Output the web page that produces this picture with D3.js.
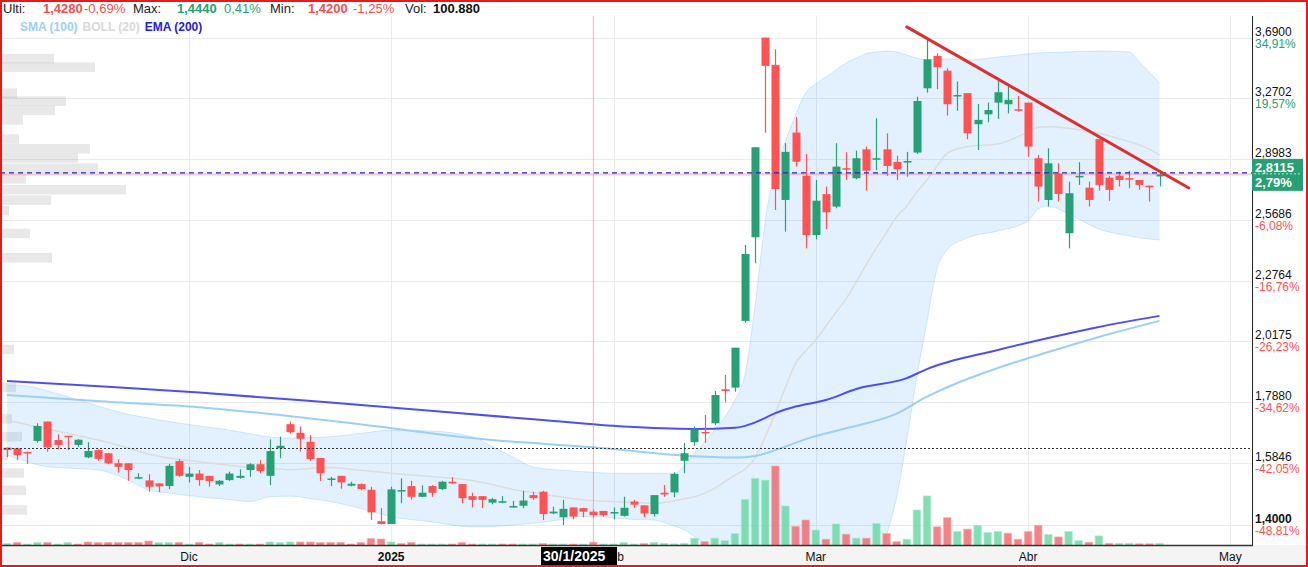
<!DOCTYPE html>
<html>
<head>
<meta charset="utf-8">
<script src="https://cdn.jsdelivr.net/npm/d3@7"></script>
<style>
  html, body { margin: 0; padding: 0; background: #fff; }
  svg { display: block; font-family: "Liberation Sans", Arial, sans-serif; }
</style>
</head>
<body>
<svg id="chart" width="1308" height="567"></svg>
<script>
// Daily candles, 6/11/2024 .. 22/4/2025 (index = trading day)
const opens = [1.633,1.631,1.619,1.655,1.720,1.658,1.672,1.642,1.602,1.625,
  1.615,1.583,1.583,1.537,1.530,1.521,1.513,1.590,1.541,1.551,
  1.544,1.518,1.531,1.538,1.562,1.580,1.544,1.631,1.711,1.682,
  1.652,1.600,1.532,1.544,1.514,1.519,1.502,1.411,1.403,1.498,
  1.513,1.481,1.513,1.504,1.526,1.519,1.483,1.483,1.464,1.465,
  1.452,1.455,1.486,1.496,1.433,1.422,1.450,1.448,1.438,1.440,
  1.434,1.426,1.467,1.456,1.431,1.493,1.494,1.591,1.651,1.685,
  1.714,1.834,1.840,2.101,2.481,3.690,3.495,2.672,3.055,2.804,
  2.492,2.703,2.637,2.846,2.790,2.955,2.897,2.955,2.882,2.882,
  2.936,3.336,3.558,3.455,3.286,3.304,3.106,3.168,3.242,3.232,
  3.200,3.242,2.903,2.672,2.816,2.501,2.797,2.738,3.015,2.793,
  2.804,2.790,2.780,2.749,2.800];
const highs = [1.633,1.633,1.620,1.714,1.720,1.677,1.672,1.661,1.651,1.628,
  1.615,1.596,1.583,1.552,1.549,1.521,1.581,1.596,1.571,1.562,
  1.544,1.531,1.557,1.564,1.583,1.593,1.660,1.669,1.720,1.703,
  1.674,1.600,1.541,1.544,1.526,1.521,1.511,1.448,1.511,1.536,
  1.529,1.515,1.516,1.529,1.540,1.519,1.493,1.483,1.478,1.483,
  1.469,1.498,1.496,1.499,1.452,1.472,1.450,1.449,1.444,1.440,
  1.450,1.481,1.472,1.456,1.486,1.516,1.555,1.648,1.703,1.743,
  1.828,1.887,1.992,2.443,2.967,3.690,3.605,2.991,3.150,2.928,
  2.780,2.744,2.991,2.938,2.947,2.971,3.143,3.051,2.918,2.940,
  3.281,3.673,3.577,3.472,3.381,3.304,3.234,3.242,3.385,3.347,
  3.286,3.242,2.922,2.961,2.874,2.771,2.880,2.771,3.015,2.803,
  2.827,2.831,2.780,2.749,2.836];
const lows = [1.602,1.593,1.581,1.649,1.620,1.628,1.625,1.636,1.599,1.591,
  1.580,1.554,1.529,1.535,1.496,1.495,1.504,1.541,1.524,1.514,
  1.511,1.513,1.529,1.535,1.541,1.552,1.516,1.599,1.680,1.620,
  1.591,1.528,1.513,1.505,1.512,1.501,1.414,1.402,1.403,1.462,
  1.472,1.480,1.481,1.501,1.519,1.462,1.450,1.448,1.459,1.462,
  1.450,1.448,1.472,1.414,1.431,1.400,1.416,1.422,1.420,1.424,
  1.416,1.424,1.448,1.422,1.424,1.481,1.480,1.552,1.639,1.649,
  1.708,1.787,1.825,2.094,2.356,3.055,2.619,2.509,2.855,2.427,
  2.471,2.521,2.628,2.780,2.784,2.722,2.836,2.803,2.780,2.799,
  2.928,3.307,3.330,3.160,3.191,3.015,2.951,3.118,3.139,3.174,
  3.185,2.912,2.663,2.637,2.663,2.427,2.753,2.637,2.722,2.667,
  2.744,2.735,2.726,2.663,2.745];
const closes = [1.625,1.609,1.616,1.705,1.634,1.642,1.667,1.659,1.622,1.597,
  1.583,1.572,1.562,1.540,1.511,1.512,1.575,1.544,1.551,1.531,
  1.528,1.529,1.551,1.544,1.580,1.559,1.622,1.639,1.684,1.662,
  1.596,1.552,1.536,1.524,1.520,1.504,1.436,1.403,1.503,1.501,
  1.481,1.493,1.493,1.526,1.521,1.477,1.472,1.472,1.474,1.468,
  1.454,1.470,1.477,1.431,1.438,1.446,1.424,1.438,1.428,1.428,
  1.437,1.449,1.458,1.433,1.486,1.488,1.550,1.615,1.693,1.680,
  1.813,1.828,1.992,2.400,2.967,3.488,2.731,2.940,2.883,2.492,
  2.668,2.607,2.855,2.840,2.903,2.832,2.903,2.859,2.840,2.887,
  3.253,3.534,3.479,3.232,3.292,3.051,3.133,3.195,3.310,3.260,
  3.193,2.971,2.744,2.874,2.704,2.708,2.803,2.672,2.753,2.726,
  2.780,2.784,2.753,2.740,2.8115];
// volume, thousands of shares
const volumes = [55,91,37,91,91,37,91,37,110,91,
  91,91,91,91,146,91,91,91,37,91,
  37,91,37,37,37,37,110,91,110,110,
  110,91,91,91,37,91,238,220,110,55,
  91,37,37,37,37,91,37,37,37,37,
  37,37,37,55,37,37,37,37,100.88,37,
  37,91,37,55,91,60,40,60,249,124,
  249,161,421,1668,2437,2374,2890,1427,680,915,
  545,209,768,395,249,249,790,421,124,209,
  1280,1793,666,1002,494,582,717,457,494,432,
  209,494,717,384,296,494,161,99,333,60,
  60,60,45,45,60];

// Bollinger (20) at these bar indices
const bollIdx = [0,2,4,6,9,12,14,16,19,22,24,26,28,30,32,35,38,42,46,48,
  50,52,55,57,60,62,64,66,67,68,69,70,71,72,73,74,75,76,77,78,
  79,80,81,82,83,84,85,86,87,88,89,90,91,92,93,95,98,101,102,103,
  105,108,111,112,113,114];
const bollUpper = [1.850,1.846,1.828,1.807,1.774,1.745,1.732,1.720,1.705,1.691,
  1.679,1.668,1.664,1.666,1.669,1.680,1.691,1.688,1.669,1.636,
  1.604,1.572,1.561,1.557,1.552,1.552,1.552,1.552,1.575,1.615,
  1.651,1.691,1.736,1.795,1.889,2.169,2.562,2.836,3.004,3.164,
  3.305,3.365,3.413,3.460,3.508,3.543,3.575,3.585,3.593,3.586,
  3.564,3.543,3.529,3.536,3.536,3.529,3.550,3.572,3.579,3.582,
  3.586,3.593,3.586,3.515,3.446,3.371];
const bollMid = [1.725,1.709,1.695,1.680,1.658,1.632,1.612,1.600,1.588,1.577,
  1.570,1.567,1.563,1.567,1.570,1.561,1.552,1.542,1.530,1.518,
  1.503,1.494,1.480,1.472,1.467,1.465,1.462,1.469,1.475,1.481,
  1.492,1.506,1.526,1.546,1.565,1.600,1.669,1.749,1.841,1.931,
  1.979,2.023,2.080,2.137,2.195,2.270,2.351,2.429,2.505,2.585,
  2.640,2.715,2.780,2.859,2.932,2.971,2.987,3.059,3.088,3.090,
  3.081,3.051,3.000,2.980,2.955,2.922];
const bollLower = [1.609,1.588,1.572,1.568,1.562,1.531,1.501,1.492,1.481,1.473,
  1.467,1.481,1.483,1.476,1.467,1.447,1.424,1.409,1.395,1.396,
  1.400,1.405,1.416,1.424,1.420,1.416,1.414,1.397,1.387,1.368,
  1.350,1.320,1.280,1.220,1.150,1.050,0.950,0.900,0.850,0.820,
  0.800,0.800,0.800,0.820,0.850,0.900,0.980,1.250,1.370,1.480,
  1.660,1.880,2.100,2.330,2.420,2.478,2.512,2.563,2.625,2.640,
  2.599,2.522,2.487,2.478,2.472,2.468];

// SMA (100) and EMA (200), [bar index, price]
const sma100 = [[0,1.813],[10,1.789],[19,1.770],[32,1.723],[48,1.658],[58,1.634],
  [68,1.605],[72,1.601],[74,1.606],[76,1.625],[79,1.661],[83,1.697],[88,1.747],
  [91,1.807],[94,1.857],[98,1.913],[103,1.975],[108,2.035],[114,2.101]];
const ema200 = [[0,1.864],[10,1.843],[19,1.822],[32,1.786],[53,1.725],[61,1.703],
  [68,1.695],[72,1.699],[74,1.717],[76,1.749],[78,1.772],[81,1.795],[84,1.835],
  [89,1.875],[91,1.909],[98,1.983],[103,2.031],[108,2.076],[114,2.122]];

// volume-by-price profile on the left edge
const profilePrices = [3.539,3.479,3.304,3.252,3.193,3.133,3.016,2.958,2.904,2.846,
  2.786,2.727,2.671,2.616,2.500,2.382,1.985,1.841,1.729,1.669,1.609,1.553,1.500,1.443];
const profileVols = [2160,3800,680,2640,2200,920,760,3600,3120,3920,
  1040,5040,2040,360,1200,2080,560,640,480,880,320,960,1040,1080];

// axes (the % under 2,8983 is covered by the last-price box)
const priceTicks = [3.69, 3.2702, 2.8983, 2.5686, 2.2764, 2.0175, 1.788, 1.5846, 1.4];
const pctLabels = ['34,91%', '19,57%', '', '-6,08%', '-16,76%', '-26,23%', '-34,62%', '-42,05%', '-48,81%'];
const monthIdx = [18, 38, 60, 80, 101, 121];
const monthLabels = ['Dic', '2025', 'Feb', 'Mar', 'Abr', 'May'];

// drawn trend line, price lines and crosshair
const trendLine = [[89, 3.769], [116.9, 2.736]];
const prevClose = 2.82;
const lastPct = '2,79%';
const crossIdx = 58;
const crossPrice = 1.632;
const crossDate = '30/1/2025';
const hoverLabels = ['Ulti:', '1,4280', '-0,69%', 'Max:', '1,4440', '0,41%', 'Min:', '1,4200', '-1,25%', 'Vol:', '100.880'];

const GREEN = '#26a074', RED = '#ff5252', HRED = '#f05050';
const W = 1308, H = 567;
const P = { left: 0, right: 1252, top: 16, bottom: 545 };

const loc = d3.formatLocale({ decimal: ',', thousands: '.', grouping: [3], currency: ['', ''] });
const fmtPrice = loc.format('.4f');

const svg = d3.select('#chart');
svg.append('rect').attr('width', W).attr('height', H).attr('fill', '#fff');

const x = d3.scaleLinear().domain([0, 121]).range([7, 7 + 10.11 * 121]);
const y = d3.scaleLog().domain([1.3457, 3.844]).range([P.bottom, 17]);
const yVol = d3.scaleLinear().domain([0, 3000]).range([P.bottom, P.bottom - 82]);
const xProf = d3.scaleLinear().domain([0, d3.max(profileVols)]).range([0, 126]);

svg.append('clipPath').attr('id', 'clip')
  .append('rect').attr('x', P.left).attr('y', P.top)
  .attr('width', P.right - P.left).attr('height', P.bottom - P.top);

const g = svg.append('g').attr('clip-path', 'url(#clip)');

// grid
g.selectAll('.hgrid').data(priceTicks).enter().append('line')
  .attr('x1', P.left).attr('x2', P.right)
  .attr('y1', d => Math.round(y(d)) + 0.5).attr('y2', d => Math.round(y(d)) + 0.5)
  .attr('stroke', '#ebebeb');
g.selectAll('.vgrid').data(monthIdx).enter().append('line')
  .attr('x1', d => Math.round(x(d)) + 0.5).attr('x2', d => Math.round(x(d)) + 0.5)
  .attr('y1', P.top).attr('y2', P.bottom)
  .attr('stroke', '#ebebeb');

// volume profile
g.selectAll('.prof').data(profilePrices).enter().append('rect')
  .attr('x', 0).attr('y', d => y(d) - 4.75)
  .attr('width', (d, k) => xProf(profileVols[k])).attr('height', 9.5)
  .attr('fill', 'rgba(150,150,150,0.22)');

// bollinger band
const bollPts = bollIdx.map((d, k) => k);
g.append('path').datum(bollPts)
  .attr('d', d3.area().curve(d3.curveMonotoneX)
    .x(k => x(bollIdx[k])).y0(k => y(bollLower[k])).y1(k => y(bollUpper[k])))
  .attr('fill', 'rgba(33,150,243,0.13)');
[bollUpper, bollLower].forEach(arr => {
  g.append('path').datum(bollPts)
    .attr('d', d3.line().curve(d3.curveMonotoneX).x(k => x(bollIdx[k])).y(k => y(arr[k])))
    .attr('fill', 'none').attr('stroke', 'rgba(100,175,240,0.25)').attr('stroke-width', 1);
});
g.append('path').datum(bollPts)
  .attr('d', d3.line().curve(d3.curveMonotoneX).x(k => x(bollIdx[k])).y(k => y(bollMid[k])))
  .attr('fill', 'none').attr('stroke', '#dcdcdc').attr('stroke-width', 1.5);

// moving averages
const maLine = d3.line().curve(d3.curveMonotoneX).x(d => x(d[0])).y(d => y(d[1]));
g.append('path').datum(sma100).attr('d', maLine)
  .attr('fill', 'none').attr('stroke', '#9ccff8').attr('stroke-width', 2);
g.append('path').datum(ema200).attr('d', maLine)
  .attr('fill', 'none').attr('stroke', '#4f4ff0').attr('stroke-width', 2);

// volume bars, coloured by close vs previous close
const isDown = i => i > 0 && closes[i] < closes[i - 1];
g.selectAll('.vol').data(volumes).enter().append('rect')
  .attr('x', (d, i) => x(i) - 3.75).attr('width', 7.5)
  .attr('y', d => yVol(d)).attr('height', d => P.bottom - yVol(d))
  .attr('fill', (d, i) => isDown(i) ? 'rgba(240,100,105,0.8)' : 'rgba(100,215,160,0.8)')
  .attr('stroke', (d, i) => isDown(i) ? 'rgba(250,170,170,0.6)' : 'rgba(170,235,205,0.6)')
  .attr('stroke-width', 1);

// candles
const candles = g.selectAll('.candle').data(closes).enter().append('g');
candles.append('line')
  .attr('x1', (d, i) => Math.round(x(i)) + 0.5).attr('x2', (d, i) => Math.round(x(i)) + 0.5)
  .attr('y1', (d, i) => y(highs[i])).attr('y2', (d, i) => y(lows[i]))
  .attr('stroke', (d, i) => d >= opens[i] ? GREEN : RED).attr('stroke-width', 1.2);
candles.append('rect')
  .attr('x', (d, i) => Math.round(x(i)) + 0.5 - 4).attr('width', 8)
  .attr('y', (d, i) => y(Math.max(d, opens[i])))
  .attr('height', (d, i) => Math.max(1.5, Math.abs(y(d) - y(opens[i]))))
  .attr('fill', (d, i) => d >= opens[i] ? GREEN : RED);

// price lines
const lastClose = closes[closes.length - 1];
g.append('line').attr('x1', P.left).attr('x2', P.right)
  .attr('y1', y(lastClose)).attr('y2', y(lastClose))
  .attr('stroke', 'rgba(255,82,82,0.3)').attr('stroke-width', 2);
g.append('line').attr('x1', P.left).attr('x2', P.right)
  .attr('y1', y(prevClose)).attr('y2', y(prevClose))
  .attr('stroke', '#1f1fd8').attr('stroke-width', 1.2).attr('stroke-dasharray', '5,4');

// trend line
g.append('line')
  .attr('x1', x(trendLine[0][0])).attr('y1', y(trendLine[0][1]))
  .attr('x2', x(trendLine[1][0])).attr('y2', y(trendLine[1][1]))
  .attr('stroke', '#dc3030').attr('stroke-width', 3).attr('stroke-linecap', 'round');

// crosshair
g.append('line').attr('x1', x(crossIdx)).attr('x2', x(crossIdx))
  .attr('y1', P.top).attr('y2', P.bottom)
  .attr('stroke', 'rgba(255,120,120,0.6)').attr('stroke-width', 1);
g.append('line').attr('x1', P.left).attr('x2', P.right)
  .attr('y1', Math.round(y(crossPrice)) + 0.5).attr('y2', Math.round(y(crossPrice)) + 0.5)
  .attr('stroke', '#333').attr('stroke-width', 1).attr('stroke-dasharray', '2,2');

// header (values of the bar under the crosshair)
const headX = [3, 43, 84, 133, 177, 224, 270, 308, 353, 405, 433];
const headFill = ['#222', HRED, HRED, '#222', GREEN, GREEN, '#222', HRED, HRED, '#222', '#111'];
const headBold = [1, 4, 7, 10];
svg.selectAll('.head').data(hoverLabels).enter().append('text')
  .attr('x', (d, k) => headX[k]).attr('y', 13).attr('font-size', 13)
  .attr('fill', (d, k) => headFill[k])
  .attr('font-weight', (d, k) => headBold.includes(k) ? 'bold' : 'normal')
  .text(d => d);

// legend
const leg = svg.append('text').attr('x', 20).attr('y', 31).attr('font-size', 12).attr('font-weight', 'bold');
leg.append('tspan').text('SMA (100)').attr('fill', '#9ccff8');
leg.append('tspan').text('BOLL (20)').attr('fill', '#d9d9d9').attr('dx', 5);
leg.append('tspan').text('EMA (200)').attr('fill', '#2222dd').attr('dx', 5);

// right price axis
svg.append('line').attr('x1', P.right + 0.5).attr('x2', P.right + 0.5)
  .attr('y1', P.top).attr('y2', P.bottom).attr('stroke', '#222');
const ax = svg.append('g').attr('font-size', 12);
ax.selectAll('.pl').data(priceTicks).enter().append('text')
  .attr('x', P.right + 3).attr('y', d => y(d) - 2)
  .attr('fill', '#111').attr('font-weight', d => d === 1.4 ? 'bold' : 'normal')
  .text(d => fmtPrice(d));
ax.selectAll('.pp').data(priceTicks.filter((d, k) => pctLabels[k])).enter().append('text')
  .attr('x', P.right + 3).attr('y', d => y(d) + 10)
  .attr('fill', d => pctLabels[priceTicks.indexOf(d)][0] === '-' ? RED : GREEN)
  .text(d => pctLabels[priceTicks.indexOf(d)]);

// last price box
const by = y(lastClose);
svg.append('rect').attr('x', P.right).attr('y', by - 15.5).attr('width', 51).attr('height', 32).attr('fill', GREEN);
svg.append('line').attr('x1', P.right + 2).attr('x2', P.right + 49)
  .attr('y1', by - 0.5).attr('y2', by - 0.5)
  .attr('stroke', 'rgba(255,255,255,0.7)').attr('stroke-dasharray', '2,2');
svg.append('text').attr('x', P.right + 3).attr('y', by - 2).attr('font-size', 13)
  .attr('font-weight', 'bold').attr('fill', '#fff').text(fmtPrice(lastClose));
svg.append('text').attr('x', P.right + 3).attr('y', by + 13).attr('font-size', 13)
  .attr('font-weight', 'bold').attr('fill', '#fff').text(lastPct);

// bottom time axis
svg.append('rect').attr('x', 0).attr('y', P.bottom).attr('width', W).attr('height', H - P.bottom).attr('fill', '#f4f4f4');
svg.append('line').attr('x1', 0).attr('x2', P.right + 1)
  .attr('y1', P.bottom + 0.5).attr('y2', P.bottom + 0.5).attr('stroke', '#333').attr('stroke-width', 1.5);
svg.selectAll('.ml').data(monthIdx).enter().append('text')
  .attr('x', d => x(d)).attr('y', 561).attr('text-anchor', 'middle')
  .attr('font-size', 12).attr('fill', '#111')
  .attr('font-weight', (d, k) => monthLabels[k] === '2025' ? 'bold' : 'normal')
  .text((d, k) => monthLabels[k]);

// crosshair date label
svg.append('rect').attr('x', 541).attr('y', 547).attr('width', 76).attr('height', 18).attr('fill', '#000');
svg.append('text').attr('x', 543).attr('y', 561).attr('font-size', 14).attr('font-weight', 'bold')
  .attr('fill', '#fff').text(crossDate);

// frame
svg.append('rect').attr('x', 1).attr('y', 1).attr('width', W - 2).attr('height', H - 2)
  .attr('fill', 'none').attr('stroke', '#e31b1b').attr('stroke-width', 2);
</script>
</body>
</html>
